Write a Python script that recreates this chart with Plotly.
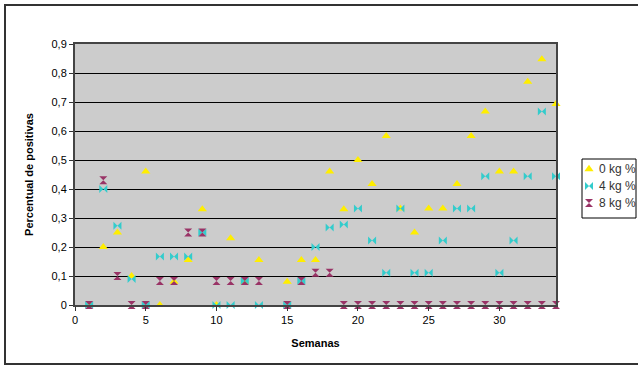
import plotly.graph_objects as go

semanas = list(range(1, 35))
semanas_sem14 = [s for s in semanas if s != 14]

kg0 = [0, 0.2, 0.25, 0.1, 0.46, 0, 0.08, 0.155, 0.33, 0, 0.23, 0.08, 0.155,
       0.08, 0.155, 0.155, 0.46, 0.33, 0.5, 0.417, 0.583, 0.333, 0.25, 0.333,
       0.333, 0.417, 0.583, 0.667, 0.46, 0.46, 0.77, 0.847, 0.693]
kg4 = [0, 0.40, 0.273, 0.09, 0, 0.167, 0.167, 0.167, 0.25, 0, 0, 0.083, 0,
       0, 0.083, 0.2, 0.267, 0.278, 0.333, 0.222, 0.111, 0.333, 0.111, 0.111,
       0.222, 0.333, 0.333, 0.444, 0.111, 0.222, 0.444, 0.667, 0.444]
kg8 = [0, 0.43, 0.1, 0, 0, 0.083, 0.083, 0.25, 0.25, 0.083, 0.083, 0.083, 0.083,
       0, 0.083, 0.111, 0.111, 0, 0, 0, 0, 0, 0, 0,
       0, 0, 0, 0, 0, 0, 0, 0, 0]

series_names = ["0 kg %", "4 kg %", "8 kg %"]
series_vals = [kg0, kg4, kg8]
symbols = ["triangle-up", "bowtie", "hourglass"]
colors = ["#FFEE00", "#33CCCC", "#993366"]

# legend glyph outlines (pixel offsets, y up) matching the marker symbols
glyph_paths = [
    "M -4.6,-2.3 L 4.6,-2.3 L 0,4.3 Z",
    "M 4,4 L 4,-4 L -4,4 L -4,-4 Z",
    "M 4,4 L -4,4 L 4,-4 L -4,-4 Z",
]

# plot area in pixels
PL, PR, PT, PB = 75, 556, 44, 305
XMAX, YMAX = 34, 0.9


def px_to_paper_x(px):
    return (px - PL) / (PR - PL)


def px_to_paper_y(py):
    return (PB - py) / (PB - PT)


fig = go.Figure()
for name, vals, sym, col in zip(series_names, series_vals, symbols, colors):
    fig.add_trace(go.Scatter(
        x=semanas_sem14, y=vals, mode="markers", name=name,
        marker=dict(symbol=sym, size=8, color=col, line=dict(width=0)),
        cliponaxis=False, showlegend=False,
    ))

# legend drawn by hand so it fits in the narrow right margin
leg_rows_px = [169, 186, 203]
leg_marker_px = 589
leg_text_px = 597

annotations = [
    dict(xref="paper", yref="paper", x=px_to_paper_x(leg_text_px), y=px_to_paper_y(r),
         xanchor="left", yanchor="middle", showarrow=False, text=name,
         font=dict(size=12, color="#333"))
    for name, r in zip(series_names, leg_rows_px)
]

shapes = [
    dict(type="rect", xref="paper", yref="paper",
         x0=px_to_paper_x(5), x1=px_to_paper_x(641),
         y0=px_to_paper_y(364), y1=px_to_paper_y(5),
         line=dict(color="#333", width=2), layer="below"),
    dict(type="rect", xref="paper", yref="paper",
         x0=px_to_paper_x(582), x1=px_to_paper_x(636),
         y0=px_to_paper_y(218), y1=px_to_paper_y(159),
         line=dict(color="#000", width=1), fillcolor="white", layer="below"),
]
for path, col, r in zip(glyph_paths, colors, leg_rows_px):
    shapes.append(dict(
        type="path", xref="paper", yref="paper",
        xsizemode="pixel", ysizemode="pixel",
        xanchor=px_to_paper_x(leg_marker_px), yanchor=px_to_paper_y(r),
        path=path, fillcolor=col, line=dict(width=0), layer="above",
    ))

fig.update_layout(
    width=638, height=365,
    margin=dict(l=PL, r=638 - PR, t=PT, b=365 - PB),
    paper_bgcolor="white",
    plot_bgcolor="#CCCCCC",
    separators=",.",
    font=dict(family="Liberation Sans, Arial, sans-serif", size=11, color="#000"),
    showlegend=False,
    annotations=annotations,
    shapes=shapes,
    xaxis=dict(
        range=[0, XMAX], dtick=5, tick0=0,
        showgrid=False, zeroline=False,
        showline=True, linecolor="#444", linewidth=2, mirror=True,
        ticks="outside", ticklen=4, tickcolor="#333",
        title=dict(text="<b>Semanas</b>", font=dict(size=11), standoff=14),
    ),
    yaxis=dict(
        range=[0, YMAX], dtick=0.1, tick0=0,
        showgrid=True, gridcolor="#000", gridwidth=1,
        zeroline=False,
        showline=True, linecolor="#444", linewidth=2, mirror=True,
        ticks="outside", ticklen=4, tickcolor="#333",
        tickformat=".1~f",
        title=dict(text="<b>Percentual de positivas</b>", font=dict(size=11), standoff=16),
    ),
)

fig.write_html("out.html")
